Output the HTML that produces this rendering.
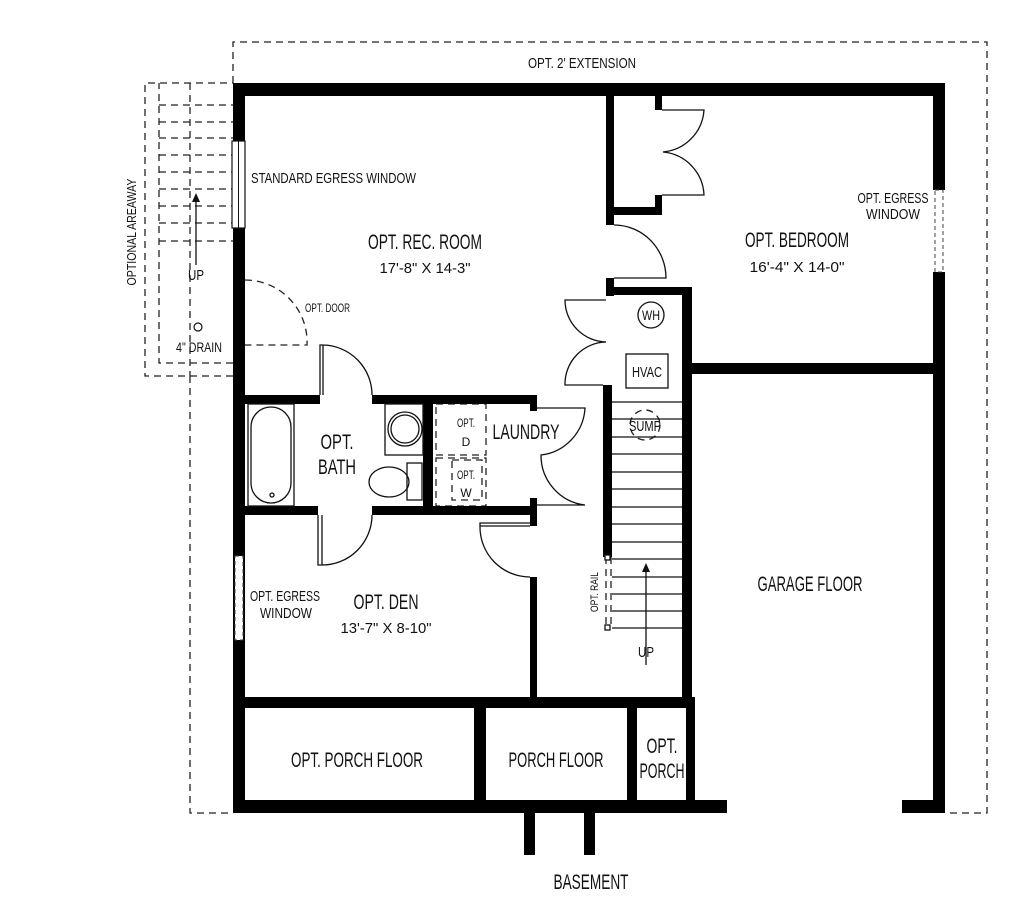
<!DOCTYPE html>
<html><head><meta charset="utf-8"><style>
html,body{margin:0;padding:0;background:#fff;}
svg{display:block}
text{font-family:"Liberation Sans Narrow","Liberation Sans",sans-serif;fill:#111;}
</style></head><body>
<svg width="1024" height="899" viewBox="0 0 1024 899" xmlns="http://www.w3.org/2000/svg">
<g fill="none" stroke="#222" stroke-width="1.3" stroke-dasharray="7,5">
<polyline points="233,83 233,42 987,42 987,813 945,813"/>
<polyline points="190,376 190,813 233,813"/>
<polyline points="233,376 145,376 145,83 233,83"/>
<polyline points="233,363 159,363 159,83"/>
<line x1="190" y1="83" x2="190" y2="376"/>
<line x1="159" y1="105" x2="233" y2="105"/><line x1="159" y1="122" x2="233" y2="122"/>
<line x1="159" y1="138" x2="233" y2="138"/><line x1="159" y1="155" x2="233" y2="155"/>
<line x1="159" y1="172" x2="233" y2="172"/><line x1="159" y1="189" x2="233" y2="189"/>
<line x1="159" y1="206" x2="233" y2="206"/><line x1="159" y1="223" x2="233" y2="223"/>
<line x1="159" y1="241" x2="233" y2="241"/>
<path d="M245,280 A62,62 0 0 1 307,345 L245,345"/>
<circle cx="645" cy="425" r="15"/>
<rect x="436" y="404" width="50" height="51"/>
<rect x="436" y="458" width="50" height="48"/>
<rect x="452" y="460" width="30" height="40"/>
<line x1="606" y1="557" x2="606" y2="627"/><line x1="611" y1="557" x2="611" y2="627"/>
</g>
<line x1="196" y1="265" x2="196" y2="200" stroke="#111" stroke-width="1.3"/>
<polygon points="192,202 200,202 196,193" fill="#111"/>
<circle cx="198" cy="327" r="4" fill="none" stroke="#111" stroke-width="1.2"/>
<g fill="#000">
<rect x="233" y="83" width="712" height="13"/>
<rect x="233" y="83" width="12" height="730"/>
<rect x="933" y="83" width="12" height="107"/>
<rect x="933" y="272" width="12" height="541"/>
<rect x="233" y="800" width="494" height="13"/>
<rect x="902" y="800" width="43" height="13"/>
<rect x="524" y="813" width="11" height="42"/>
<rect x="584" y="813" width="11" height="42"/>
<rect x="233" y="697" width="459" height="11"/>
<rect x="474" y="697" width="12" height="106"/>
<rect x="627" y="697" width="10" height="106"/>
<rect x="686" y="697" width="9" height="106"/>
<rect x="606" y="96" width="8" height="129"/>
<rect x="606" y="207" width="56" height="8"/>
<rect x="655" y="195" width="7" height="20"/>
<rect x="655" y="96" width="7" height="14"/>
<rect x="606" y="278" width="8" height="18"/>
<rect x="606" y="287" width="84" height="8"/>
<rect x="682" y="287" width="10" height="421"/>
<rect x="682" y="363" width="263" height="11"/>
<rect x="603" y="385" width="9" height="172"/>
<rect x="244" y="395" width="76" height="9"/>
<rect x="372" y="395" width="165" height="9"/>
<rect x="530" y="395" width="7" height="16"/>
<rect x="423" y="403" width="10" height="110"/>
<rect x="244" y="506" width="74" height="9"/>
<rect x="372" y="506" width="165" height="9"/>
<rect x="530" y="498" width="7" height="28"/>
<rect x="530" y="577" width="7" height="125"/>
</g>
<rect x="232" y="141" width="13" height="87" fill="#fff" stroke="#111" stroke-width="1.2"/>
<line x1="238.5" y1="141" x2="238.5" y2="228" stroke="#111" stroke-width="1"/>
<rect x="935" y="190" width="8" height="82" fill="#fff" stroke="#444" stroke-dasharray="4,3"/>
<rect x="235" y="556" width="8" height="84" fill="#fff" stroke="#444" stroke-dasharray="4,3"/>
<g fill="none" stroke="#111" stroke-width="1.3">
<path d="M662,110 L704,110 A45,45 0 0 1 663,152 A45,45 0 0 1 704,195 L662,195"/>
<path d="M614,225 A52,53 0 0 1 666,278 L614,278"/>
<path d="M606,300 L565,300 A42,42 0 0 0 606,342 A42,42 0 0 0 565,385 L603,385"/>
<path d="M537,408 L585,408 A50,50 0 0 1 541,455 A50,50 0 0 0 585,505 L537,505"/>
<path d="M320,395 L320,345 L323,345 L323,395 M323,345 A50,50 0 0 1 372,395"/>
<path d="M318,515 L318,565 L322,565 L322,515 M322,565 A50,50 0 0 0 372,515"/>
<path d="M530,523 L480,523 L480,526 L530,526 M480,526 A50,50 0 0 0 530,577"/>
<rect x="248" y="404" width="46" height="102"/>
<rect x="251" y="407" width="40" height="96" rx="20"/>
<circle cx="272" cy="495" r="2"/>
<rect x="385" y="404" width="38" height="51"/>
<circle cx="405" cy="429" r="17"/><circle cx="405" cy="429" r="14"/>
<rect x="407" y="463" width="15" height="37"/>
<ellipse cx="389" cy="482" rx="20" ry="15"/>
<line x1="612" y1="402" x2="682" y2="402"/><line x1="612" y1="419" x2="682" y2="419"/>
<line x1="612" y1="437" x2="682" y2="437"/><line x1="612" y1="454" x2="682" y2="454"/>
<line x1="612" y1="472" x2="682" y2="472"/><line x1="612" y1="489" x2="682" y2="489"/>
<line x1="612" y1="507" x2="682" y2="507"/><line x1="612" y1="524" x2="682" y2="524"/>
<line x1="612" y1="542" x2="682" y2="542"/><line x1="612" y1="559" x2="682" y2="559"/>
<line x1="612" y1="577" x2="682" y2="577"/><line x1="612" y1="594" x2="682" y2="594"/>
<line x1="612" y1="611" x2="682" y2="611"/><line x1="612" y1="628" x2="682" y2="628"/>
<line x1="646" y1="665" x2="646" y2="570"/>
<circle cx="651" cy="315" r="13"/>
<rect x="626" y="354" width="42" height="34"/>
<rect x="605" y="555" width="5" height="5" fill="#fff"/><rect x="605" y="625" width="5" height="5" fill="#fff"/>
</g>
<polygon points="642,572 650,572 646,563" fill="#111"/>
<g font-size="15">
<text x="582" y="68" text-anchor="middle" textLength="108" lengthAdjust="spacingAndGlyphs">OPT. 2' EXTENSION</text>
<text x="251" y="183" textLength="165" lengthAdjust="spacingAndGlyphs">STANDARD EGRESS WINDOW</text>
<text transform="translate(136,232) rotate(-90)" text-anchor="middle" font-size="13" textLength="107" lengthAdjust="spacingAndGlyphs">OPTIONAL AREAWAY</text>
<text x="196" y="280" text-anchor="middle" textLength="16" lengthAdjust="spacingAndGlyphs">UP</text>
<text x="176" y="352" font-size="14" textLength="46" lengthAdjust="spacingAndGlyphs">4" DRAIN</text>
<text x="305" y="312" font-size="12" textLength="45" lengthAdjust="spacingAndGlyphs">OPT. DOOR</text>
<text x="425" y="273" text-anchor="middle" textLength="91" lengthAdjust="spacingAndGlyphs">17'-8" X 14-3"</text>
<text x="797" y="272" text-anchor="middle" textLength="95" lengthAdjust="spacingAndGlyphs">16'-4" X 14-0"</text>
<text x="893" y="203" text-anchor="middle" textLength="71" lengthAdjust="spacingAndGlyphs">OPT. EGRESS</text>
<text x="893" y="219" text-anchor="middle" textLength="54" lengthAdjust="spacingAndGlyphs">WINDOW</text>
<text x="651" y="320" text-anchor="middle" font-size="14" textLength="18" lengthAdjust="spacingAndGlyphs">WH</text>
<text x="647" y="377" text-anchor="middle" textLength="30" lengthAdjust="spacingAndGlyphs">HVAC</text>
<text x="645" y="431" text-anchor="middle" textLength="32" lengthAdjust="spacingAndGlyphs">SUMP</text>
<text x="466" y="427" text-anchor="middle" font-size="12" textLength="18" lengthAdjust="spacingAndGlyphs">OPT.</text>
<text x="466" y="446" text-anchor="middle" font-size="12">D</text>
<text x="466" y="479" text-anchor="middle" font-size="12" textLength="18" lengthAdjust="spacingAndGlyphs">OPT.</text>
<text x="466" y="497" text-anchor="middle" font-size="12">W</text>
<text transform="translate(598,592) rotate(-90)" text-anchor="middle" font-size="11" textLength="40" lengthAdjust="spacingAndGlyphs">OPT. RAIL</text>
<text x="646" y="657" text-anchor="middle" textLength="16" lengthAdjust="spacingAndGlyphs">UP</text>
<text x="285" y="601" text-anchor="middle" textLength="70" lengthAdjust="spacingAndGlyphs">OPT. EGRESS</text>
<text x="286" y="618" text-anchor="middle" textLength="52" lengthAdjust="spacingAndGlyphs">WINDOW</text>
<text x="386" y="633" text-anchor="middle" textLength="91" lengthAdjust="spacingAndGlyphs">13'-7" X 8-10"</text>
</g>
<g font-size="21">
<text x="425" y="249" text-anchor="middle" textLength="114" lengthAdjust="spacingAndGlyphs">OPT. REC. ROOM</text>
<text x="797" y="247" text-anchor="middle" textLength="104" lengthAdjust="spacingAndGlyphs">OPT. BEDROOM</text>
<text x="337" y="449" text-anchor="middle" textLength="33" lengthAdjust="spacingAndGlyphs">OPT.</text>
<text x="337" y="474" text-anchor="middle" textLength="38" lengthAdjust="spacingAndGlyphs">BATH</text>
<text x="526" y="439" text-anchor="middle" textLength="67" lengthAdjust="spacingAndGlyphs">LAUNDRY</text>
<text x="810" y="591" text-anchor="middle" textLength="105" lengthAdjust="spacingAndGlyphs">GARAGE FLOOR</text>
<text x="386" y="609" text-anchor="middle" textLength="65" lengthAdjust="spacingAndGlyphs">OPT. DEN</text>
<text x="357" y="767" text-anchor="middle" textLength="132" lengthAdjust="spacingAndGlyphs">OPT. PORCH FLOOR</text>
<text x="556" y="767" text-anchor="middle" textLength="95" lengthAdjust="spacingAndGlyphs">PORCH FLOOR</text>
<text x="662" y="753" text-anchor="middle" textLength="31" lengthAdjust="spacingAndGlyphs">OPT.</text>
<text x="662" y="778" text-anchor="middle" textLength="45" lengthAdjust="spacingAndGlyphs">PORCH</text>
<text x="591" y="889" text-anchor="middle" textLength="75" lengthAdjust="spacingAndGlyphs">BASEMENT</text>
</g>
</svg>
</body></html>
